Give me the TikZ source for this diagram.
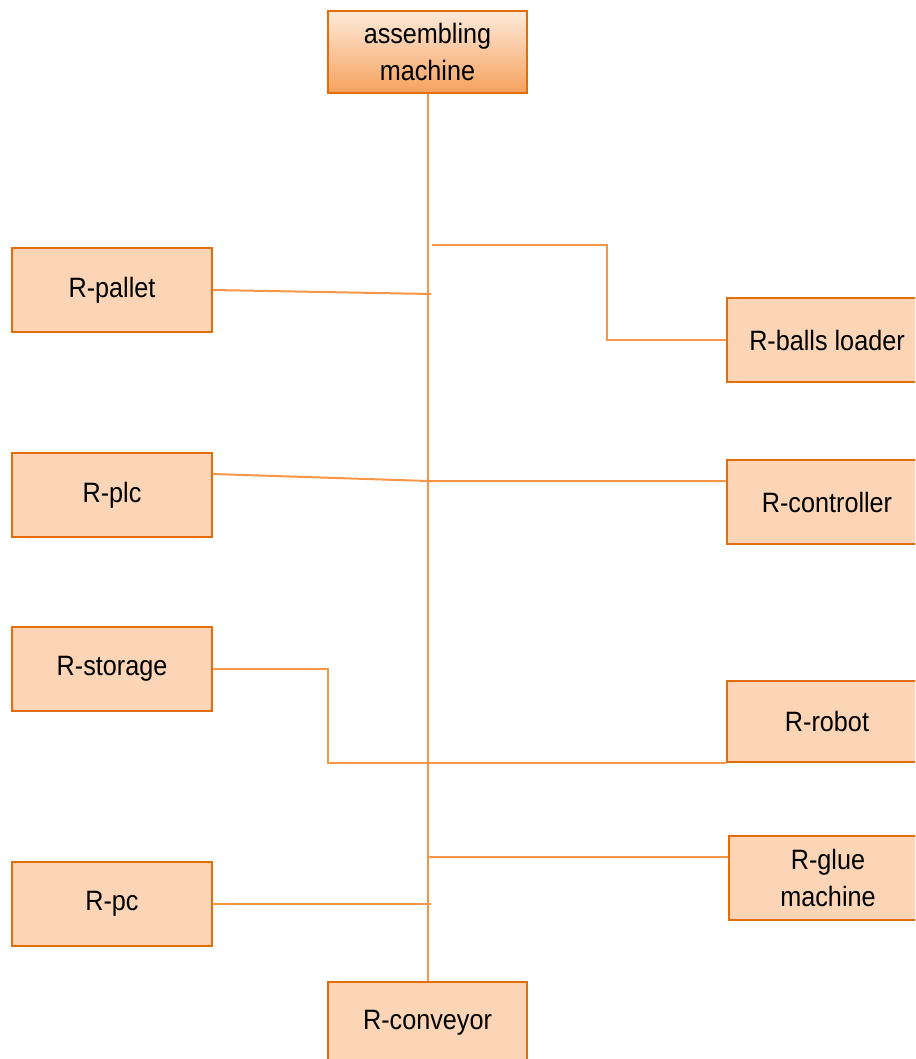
\documentclass[tikz,border=0pt]{standalone}
\usepackage{fontspec}
\setmainfont{Liberation Sans}[FakeStretch=0.9]
\definecolor{boxborder}{HTML}{E46C0A}
\definecolor{boxfill}{HTML}{FBD5B5}
\definecolor{linkcol}{HTML}{F79646}
\definecolor{headtop}{HTML}{FDEADA}
\definecolor{headbot}{HTML}{F5A25E}
\begin{document}
\begin{tikzpicture}[x=1pt,y=-1pt,
  unit/.style={draw=boxborder, line width=2pt, fill=boxfill, minimum width=200pt,
    minimum height=84pt, inner sep=0pt, align=center,
    font=\fontsize{28}{37}\selectfont},
  head/.style={unit, fill=none, top color=headtop, bottom color=headbot,
    minimum width=199pt, minimum height=82pt},
  link/.style={draw=linkcol, line width=2pt}]
\useasboundingbox (0,0) rectangle (915,1059);
\clip (0,0) rectangle (915,1059);

% machine and conveyor at the ends of the spine
\node[head] (am) at (427.5,52) {assembling\\machine};
\node[unit, minimum width=199pt, minimum height=82pt] (conv) at (427.5,1023) {R-conveyor};

% units on the left
\node[unit] (pallet)  at (112,290) {R-pallet};
\node[unit] (plc)     at (112,495) {R-plc};
\node[unit] (storage) at (112,669) {R-storage};
\node[unit] (pc)      at (112,904) {R-pc};

% units on the right
\node[unit] (balls) at (827,340) {R-balls loader};
\node[unit] (ctrl)  at (827,502) {R-controller};
\node[unit, minimum height=81pt] (robot) at (827,721.5) {R-robot};
\node[unit, minimum width=198pt] (glue) at (828,878) {R-glue\\machine};

% spine
\draw[link] (am.south) -- (conv.north);

% taps on the spine
\coordinate (tb) at (432,245);
\coordinate (bb) at (607,245);
\coordinate (tp) at (431,294);
\coordinate (tc) at (428,481);
\coordinate (sb) at (328,669);
\coordinate (tg) at (428,857);
\coordinate (tpc) at (431,904);

\draw[link] (tb) -- (bb) |- (balls.west);
\draw[link] (pallet.east) -- (tp);
\draw[link] ([yshift=21pt]plc.east) -- (tc) -- (tc -| ctrl.west);
\draw[link] (storage.east) -- (sb) |- (robot.south west);
\draw[link] (tg) -- (tg -| glue.west);
\draw[link] (pc.east) -- (tpc);
\end{tikzpicture}
\end{document}
